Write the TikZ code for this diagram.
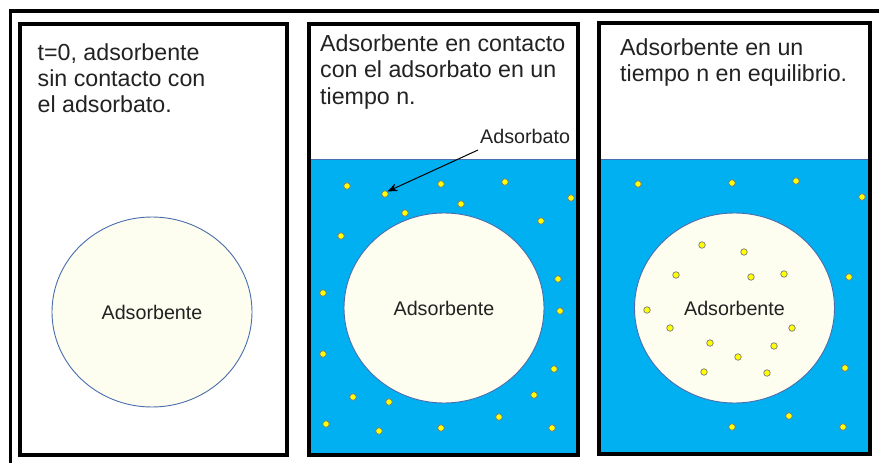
\documentclass[tikz,border=0pt]{standalone}
\usepackage{fontspec}
\setmainfont{Liberation Sans}
\usetikzlibrary{arrows.meta,shapes.geometric}
\definecolor{water}{HTML}{00B0F0}
\definecolor{ivorysorb}{HTML}{FDFDF0}
\definecolor{rim}{HTML}{4A6DAE}
\definecolor{dotc}{HTML}{FFFF00}
\definecolor{txt}{HTML}{222222}
\definecolor{dotrim}{HTML}{7A7A7A}
\begin{document}
\begin{tikzpicture}[x=1pt,y=-1pt,
  panelbox/.style={draw=black,line width=4pt},
  waterbox/.style={fill=water,draw=rim,line width=0.8pt},
  sorbent/.style={ellipse,fill=ivorysorb,draw=rim,line width=0.9pt,minimum width=200pt,minimum height=190pt,inner sep=0pt,text=txt,font=\fontsize{19.7}{22}\selectfont},
  heading/.style={anchor=base west,inner sep=0pt,text=txt,font=\fontsize{23.2}{26}\selectfont},
  lbl/.style={anchor=base west,inner sep=0pt,text=txt,font=\fontsize{19.7}{22}\selectfont},
  dot/.style={circle,fill=dotc,draw=dotrim,line width=0.7pt,minimum size=6.5pt,inner sep=0pt},
  pointer/.style={draw=black,line width=1pt,-{Stealth[length=10pt,width=8pt]}}
]
\useasboundingbox (0,0) rectangle (879,463);
\fill[white] (0,0) rectangle (879,463);
% outer frame
\draw[line width=3.5pt] (10.5,470) -- (10.5,11) -- (885,11);

% ---------- panel 1 ----------
\draw[panelbox,fill=white] (20,24) rectangle (287,455);
\node[heading] (h1a) at (37.5,60.7) {t=0, adsorbente};
\node[heading] (h1b) at (37.5,86.7) {sin contacto con};
\node[heading] (h1c) at (37.5,112.7) {el adsorbato.};
\node[sorbent] (s1) at (152,312) {Adsorbente};

% ---------- panel 2 ----------
\fill[white] (309,24) rectangle (578,455);
\draw[waterbox] (309,159) rectangle (578,455);
\draw[panelbox] (309,24) rectangle (578,455);
\node[heading] (h2a) at (320,51) {Adsorbente en contacto};
\node[heading] (h2b) at (320,77.5) {con el adsorbato en un};
\node[heading] (h2c) at (320,104.2) {tiempo n.};
\node[sorbent] (s2) at (444,308) {Adsorbente};
\foreach \n/\p in {a/{(347,186)},b/{(385,194)},c/{(441,184)},d/{(505,182)},e/{(571,198)},f/{(461,204)},g/{(405,213)},h/{(541,221)},
  i/{(341,236)},j/{(323,293)},k/{(558,279)},l/{(560,311)},m/{(323,354)},n/{(554,369)},o/{(353,397)},p/{(389,402)},
  q/{(534,395)},r/{(326,424)},s/{(379,431)},t/{(441,428)},u/{(499,417)},v/{(552,428)}}
  \node[dot] (m\n) at \p {};
\node[lbl] (adsorbato) at (480,143.3) {Adsorbato};
\coordinate (arrstart) at (478,150);
\draw[pointer] (arrstart) -- (mb.north east);

% ---------- panel 3 ----------
\fill[white] (599,23) rectangle (870,454);
\draw[waterbox] (599,159) rectangle (870,454);
\draw[panelbox] (599,23) rectangle (870,454);
\node[heading] (h3a) at (620,55) {Adsorbente en un};
\node[heading] (h3b) at (620,81.7) {tiempo n en equilibrio.};
\node[sorbent] (s3) at (734.5,308) {Adsorbente};
\foreach \n/\p in {a/{(638,184)},b/{(732,183)},c/{(796,181)},d/{(862,197)},
  e/{(702,245)},f/{(744,252)},g/{(676,275)},h/{(751,277)},i/{(784,274)},j/{(849,277)},
  k/{(647,310)},l/{(670,328)},m/{(792,328)},n/{(710,343)},o/{(774,346)},p/{(738,357)},
  q/{(704,372)},r/{(767,373)},s/{(845,368)},t/{(789,416)},u/{(732,427)},v/{(843,427)}}
  \node[dot] (r\n) at \p {};
\end{tikzpicture}
\end{document}
